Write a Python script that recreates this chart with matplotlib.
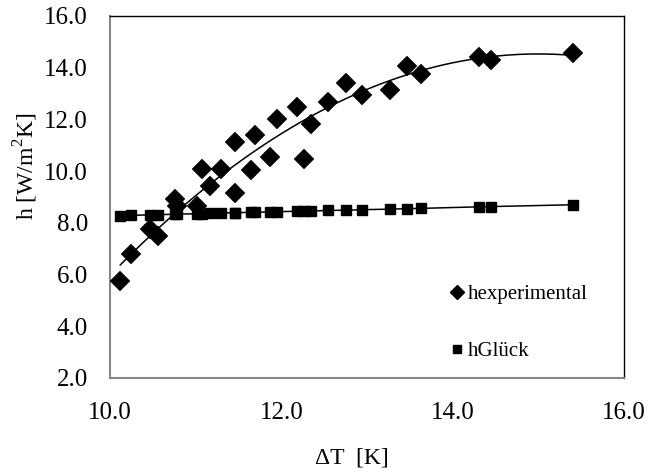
import matplotlib
matplotlib.use("Agg")
import matplotlib.pyplot as plt
from matplotlib.lines import Line2D
import numpy as np

plt.rcParams['font.family'] = ['Liberation Serif', 'DejaVu Serif']
plt.rcParams['mathtext.fontset'] = 'custom'
plt.rcParams['mathtext.rm'] = 'Liberation Serif'

# temperature difference [K]
delta_t = [10.12, 10.25, 10.47, 10.56, 10.76, 10.78, 11.01, 11.07, 11.17, 11.30,
           11.46, 11.46, 11.65, 11.69, 11.87, 11.95, 12.18, 12.26, 12.35, 12.55,
           12.76, 12.94, 13.27, 13.47, 13.63, 14.31, 14.45, 15.40]
# measured heat transfer coefficient [W/m2K]
h_exp = [5.77, 6.80, 7.75, 7.48, 8.92, 8.65, 8.65, 10.08, 9.44, 10.10,
         9.14, 11.14, 10.04, 11.40, 10.56, 12.03, 12.50, 10.46, 11.83, 12.69,
         13.42, 12.95, 13.12, 14.07, 13.76, 14.42, 14.31, 14.58]
# correlation (Glück)
h_gluck = [8.28, 8.29, 8.31, 8.32, 8.33, 8.34, 8.35, 8.36, 8.37, 8.38,
           8.39, 8.39, 8.41, 8.41, 8.42, 8.43, 8.45, 8.45, 8.46, 8.48,
           8.49, 8.51, 8.53, 8.55, 8.56, 8.62, 8.63, 8.70]

x_ticks = [10.0, 12.0, 14.0, 16.0]
y_ticks = [2.0, 4.0, 6.0, 8.0, 10.0, 12.0, 14.0, 16.0]

fig = plt.figure(figsize=(6.64, 4.75), dpi=100)
ax = fig.add_axes([110 / 664, 1 - 378 / 475, 514 / 664, 362 / 475])

# polynomial trendline (order 2) through the measurements
coef = np.polyfit(delta_t, h_exp, 2)
xs = np.linspace(min(delta_t), max(delta_t), 200)
ax.plot(xs, np.polyval(coef, xs), color='black', lw=1.1, zorder=2)

ax.plot(delta_t, h_gluck, color='black', lw=1.1, marker='s', ms=6.5,
        mec='black', mfc='black', zorder=3)
ax.plot(delta_t, h_exp, ls='none', marker='D', ms=10.5, mec='black',
        mew=0.3, mfc='black', zorder=4)

ax.set_xlim(10, 16)
ax.set_ylim(2, 16)
ax.set_xticks(x_ticks)
ax.set_yticks(y_ticks)
ax.set_xticklabels([f'{v:.1f}' for v in x_ticks])
ax.set_yticklabels([f'{v:.1f}' for v in y_ticks])
ax.tick_params(axis='both', length=0, labelsize=18)
ax.tick_params(axis='y', pad=16)
ax.tick_params(axis='x', pad=17)

for side in ['top', 'right']:
    ax.spines[side].set_color('black')
    ax.spines[side].set_linewidth(1.0)
for side in ['left', 'bottom']:
    ax.spines[side].set_color('#868686')
    ax.spines[side].set_linewidth(1.5)

fig.text(26 / 664, 1 - 166 / 475, r'h [W/m$^2$K]', rotation=90,
         ha='center', va='center', fontsize=17)
fig.text(352 / 664, 1 - 458 / 475, 'ΔT  [K]', ha='center', va='center',
         fontsize=17)

handles = [
    Line2D([], [], ls='none', marker='D', ms=7, color='black'),
    Line2D([], [], ls='none', marker='s', ms=6, color='black'),
]
fig.legend(handles, ['hexperimental', 'hGlück'], loc='center left',
           bbox_to_anchor=(449 / 664, 1 - 323 / 475), frameon=False,
           fontsize=15, handlelength=0.8, handletextpad=0.1,
           labelspacing=1.8, borderpad=0, borderaxespad=0)

fig.savefig('out.png', dpi=100)
